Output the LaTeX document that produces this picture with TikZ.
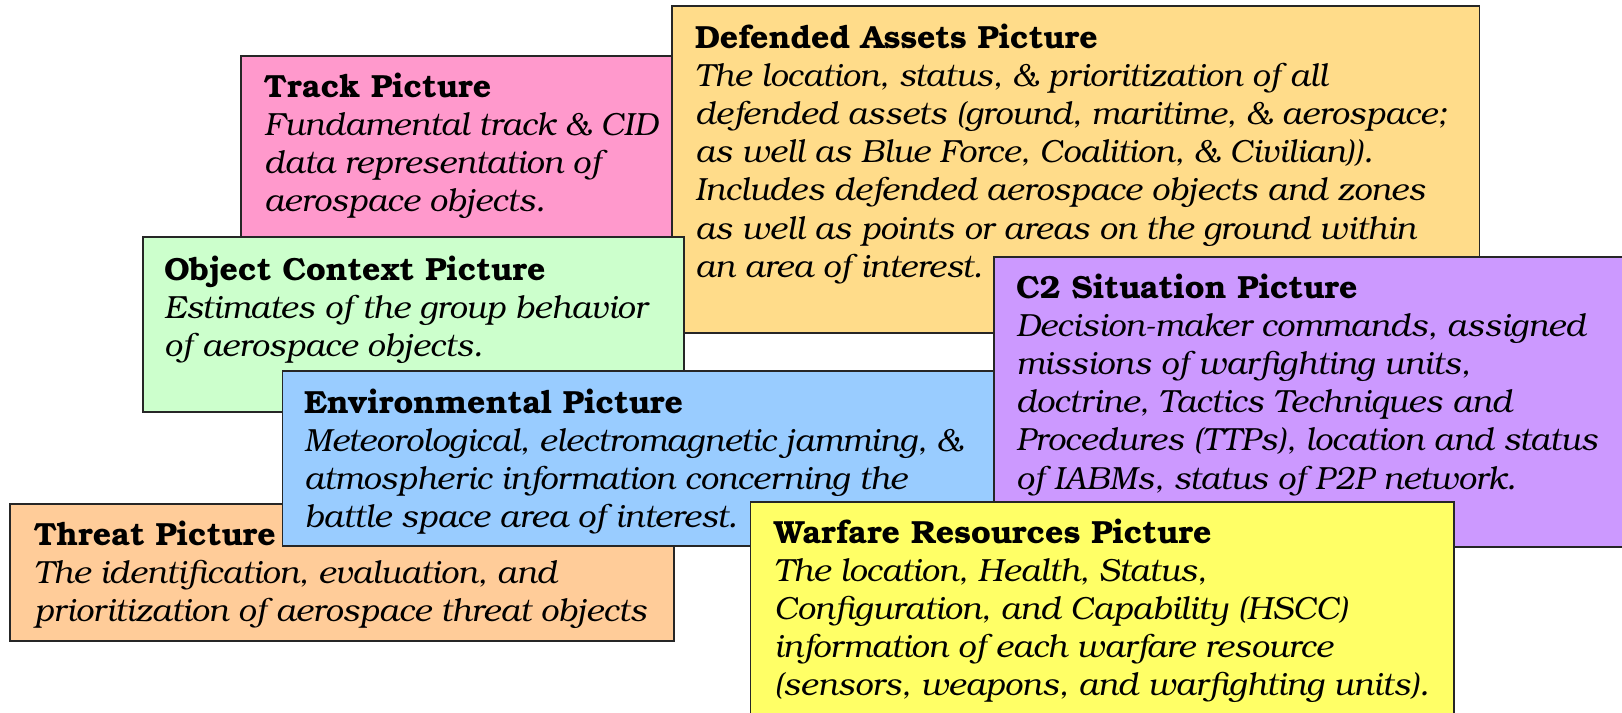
\documentclass[tikz,border=0pt]{standalone}
\usepackage{fontspec}
\setmainfont{TeX Gyre Bonum}
\usepackage{array}
\definecolor{trackc}{HTML}{FF99CC}
\definecolor{defc}{HTML}{FFDC8A}
\definecolor{objc}{HTML}{CCFFCC}
\definecolor{envc}{HTML}{99CCFF}
\definecolor{ctwoc}{HTML}{CC99FF}
\definecolor{threatc}{HTML}{FFCC99}
\definecolor{warc}{HTML}{FFFF66}
\newcommand\cardtext[2]{\fontsize{16}{19.1}\selectfont\begin{tabular}[t]{@{}>{\itshape}l@{}}\upshape\bfseries #1\\ #2\end{tabular}}
\begin{document}
\begin{tikzpicture}[x=0.5pt,y=-0.5pt,
  card/.style={draw=black!85, line width=0.9pt},
  ctext/.style={anchor=base west, inner sep=0pt, outer sep=0pt}]
\useasboundingbox (0,0) rectangle (1622,712);
% Track
\filldraw[card, fill=trackc] (241,55.7) rectangle (690,300);
\node[ctext] (trackt) at (264,97) {\cardtext{Track Picture}{Fundamental track \& CID\\ data representation of\\ aerospace objects.}};
% Defended assets
\filldraw[card, fill=defc] (672,5.7) rectangle (1479.5,333);
\node[ctext] (deft) at (695,48) {\cardtext{Defended Assets Picture}{The location, status, \& prioritization of all\\ defended assets (ground, maritime, \& aerospace;\\ as well as Blue Force, Coalition, \& Civilian)).\\ Includes defended aerospace objects and zones\\ as well as points or areas on the ground within\\ an area of interest.}};
% Object context
\filldraw[card, fill=objc] (142.8,237.3) rectangle (684,412.3);
\node[ctext] (objt) at (164,280) {\cardtext{Object Context Picture}{Estimates of the group behavior\\ of aerospace objects.}};
% Threat
\filldraw[card, fill=threatc] (10.3,503.7) rectangle (673.6,640.7);
\node[ctext] (threatt) at (34,545) {\cardtext{Threat Picture}{The identification, evaluation, and\\ prioritization of aerospace threat objects}};
% Environmental
\filldraw[card, fill=envc] (282.5,371) rectangle (1010,545.7);
\node[ctext] (envt) at (304,413) {\cardtext{Environmental Picture}{Meteorological, electromagnetic jamming, \&\\ atmospheric information concerning the\\ battle space area of interest.}};
% C2 situation
\filldraw[card, fill=ctwoc] (994,256.7) rectangle (1630,546.7);
\node[ctext] (ctwot) at (1016,298) {\cardtext{C2 Situation Picture}{Decision-maker commands, assigned\\ missions of warfighting units,\\ doctrine, Tactics Techniques and\\ Procedures (TTPs), location and status\\ of IABMs, status of P2P network.}};
% Warfare resources
\filldraw[card, fill=warc] (750.5,502) rectangle (1453.8,720);
\node[ctext] (wart) at (774,543) {\cardtext{Warfare Resources Picture}{The location, Health, Status,\\ Configuration, and Capability (HSCC)\\ information of each warfare resource\\ (sensors, weapons, and warfighting units).}};
\end{tikzpicture}
\end{document}
